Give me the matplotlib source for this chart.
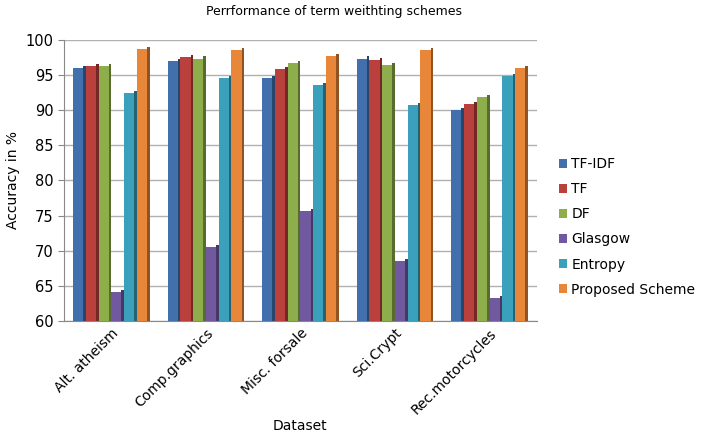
import numpy as np
import matplotlib
matplotlib.use('Agg')
import matplotlib.pyplot as plt
import matplotlib.colors as mcolors

datasets = ['Alt. atheism', 'Comp.graphics', 'Misc. forsale', 'Sci.Crypt', 'Rec.motorcycles']
schemes = ['TF-IDF', 'TF', 'DF', 'Glasgow', 'Entropy', 'Proposed Scheme']
tfidf = [96.0, 97.0, 94.5, 97.3, 90.0]
tf = [96.2, 97.5, 95.8, 97.1, 90.8]
df = [96.3, 97.3, 96.7, 96.4, 91.8]
glasgow = [64.2, 70.5, 75.6, 68.5, 63.3]
entropy = [92.4, 94.5, 93.5, 90.7, 94.8]
proposed = [98.6, 98.5, 97.7, 98.5, 96.0]
colors = ['#4170AD', '#B9403D', '#8EAE4B', '#7159A0', '#3AA0BB', '#E8863A']

series = [tfidf, tf, df, glasgow, entropy, proposed]

fig = plt.figure(figsize=(7.11, 4.4), dpi=100)
ax = fig.add_axes([0.09, 0.27, 0.665, 0.64])

x = np.arange(len(datasets))
w = 0.135
front = w * 0.8
side = w - front
for i, (vals, c) in enumerate(zip(series, colors)):
    pos = x + (i - 2.5) * w
    dark = np.array(mcolors.to_rgb(c)) * 0.62
    vals = np.array(vals)
    # fake 3D: darker side face to the right of each bar
    ax.bar(pos - w / 2 + front + side / 2, vals - 60 + 0.3, width=side, bottom=60,
           color=dark, edgecolor='none', zorder=2)
    ax.bar(pos - w / 2 + front / 2, vals - 60, width=front, bottom=60, color=c,
           edgecolor='none', zorder=3, label=schemes[i])

ax.set_ylim(60, 100)
ax.set_xlim(-0.5, len(datasets) - 0.5)
ax.set_yticks(range(60, 101, 5))
ax.tick_params(axis='y', labelsize=10.5, length=4, color='#888888')
ax.tick_params(axis='x', length=0, labelsize=10)
ax.set_xticks(x)
ax.set_xticklabels(datasets, rotation=45, ha='right', rotation_mode='anchor')
ax.yaxis.grid(True, color='#b0b0b0', linewidth=1)
ax.set_axisbelow(True)
for s in ['top', 'right']:
    ax.spines[s].set_visible(False)
ax.spines['left'].set_color('#888888')
ax.spines['bottom'].set_color('#888888')

ax.set_ylabel('Accuracy in %', fontsize=10)
ax.set_xlabel('Dataset', fontsize=10, labelpad=2)
fig.text(0.47, 0.975, 'Perrformance of term weithting schemes', ha='center', va='center', fontsize=9)

leg = ax.legend(loc='center left', bbox_to_anchor=(1.02, 0.335), frameon=False, fontsize=10,
                handlelength=0.6, handleheight=0.6, handletextpad=0.3, labelspacing=0.8)

fig.savefig('out.png', dpi=100)
